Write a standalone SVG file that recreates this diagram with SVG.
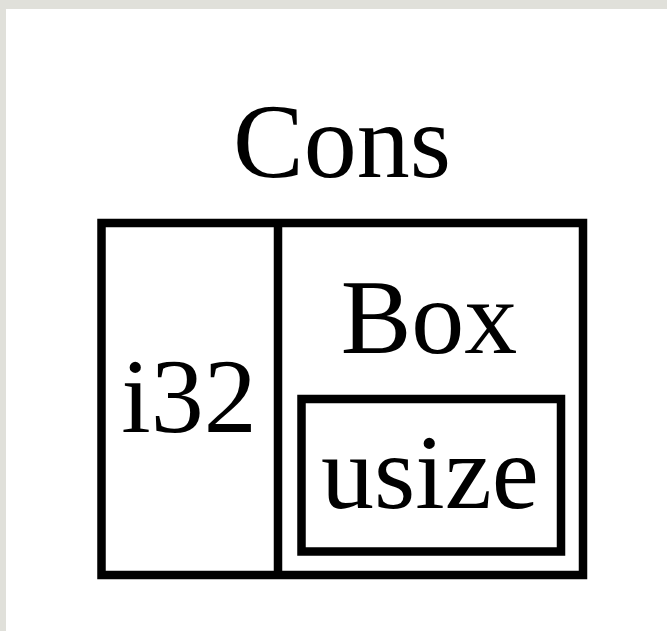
<svg xmlns="http://www.w3.org/2000/svg" width="667" height="631" viewBox="0 0 667 631">
<style>
.box{fill:none;stroke:#000;stroke-width:8.5}
.t{font-family:"Liberation Serif","Times New Roman",serif;font-size:106px;fill:#000;text-anchor:middle}
</style>
<rect x="0" y="0" width="667" height="631" fill="#e0e0da"/>
<rect x="6" y="9" width="661" height="622" fill="#fff"/>
<g id="cons">
<text class="t" x="342" y="177">Cons</text>
<rect class="box" x="101.5" y="223" width="481.5" height="352"/>
</g>
<g id="i32">
<text class="t" x="189" y="432">i32</text>
</g>
<g id="box">
<line class="box" x1="278" y1="223" x2="278" y2="575"/>
<text class="t" x="429" y="353">Box</text>
</g>
<g id="usize">
<rect class="box" x="301.5" y="399" width="259.5" height="152.5"/>
<text class="t" x="430" y="508">usize</text>
</g>
<g id="connectors"></g>
</svg>
